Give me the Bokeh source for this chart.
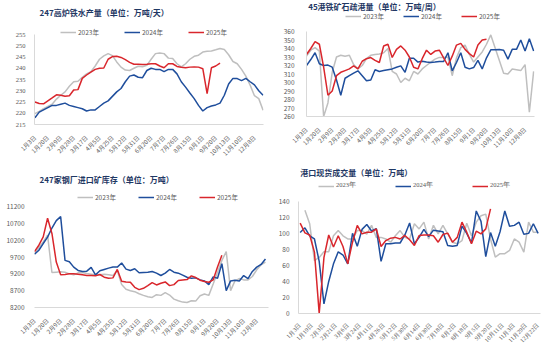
import math
from bokeh.plotting import figure
from bokeh.models import Range1d, FixedTicker, Legend, LegendItem, Label
from bokeh.layouts import column, row
from bokeh.embed import file_html
from bokeh.resources import INLINE

NAN = float("nan")

# ---------------- data ----------------
week_labels = ["1月3日", "1月20日", "2月9日", "2月28日", "3月17日", "4月5日", "4月25日",
               "5月12日", "5月31日", "6月20日", "7月7日", "7月26日", "8月15日", "9月1日",
               "9月20日", "10月13日", "11月10日", "12月8日"]

hot_metal_2023 = [219.8, 220.8, 222.0, 223.0, 224.0, 226.3, 228.0, 229.5, 232.0, 234.0,
                  234.2, 236.0, 237.5, 238.5, 241.0, 244.0, 245.5, 246.5, 245.6, 242.8,
                  240.5, 239.2, 239.0, 240.0, 240.9, 240.7, 241.3, 244.0, 246.5, 246.8,
                  246.5, 244.5, 244.3, 242.0, 240.6, 242.0, 244.0, 245.3, 245.8, 247.2,
                  247.6, 247.7, 248.2, 248.8, 248.3, 246.0, 243.0, 242.0, 239.5, 236.5,
                  232.5, 227.8, 226.5, 221.3]
hot_metal_2024 = [218.0, 220.5, 221.5, 222.5, 223.5, 223.5, 224.0, 224.5, 223.5, 223.0,
                  222.5, 222.0, 221.0, 221.5, 221.5, 223.0, 224.5, 225.5, 227.5, 229.5,
                  231.0, 234.0, 236.5, 237.0, 236.0, 235.8, 239.0, 240.0, 239.5, 239.5,
                  238.5, 239.5, 239.5, 237.5, 234.0, 231.6, 229.0, 226.5, 223.5, 221.0,
                  222.5, 223.2, 223.7, 224.5, 228.0, 233.0, 235.5, 235.4, 234.5, 235.5,
                  234.0, 232.6, 230.0, 228.0]
hot_metal_2025 = [225.0, 224.3, 224.2, 225.5, 226.8, 228.2, 228.0, 227.6, 227.8, 230.3,
                  230.5, 235.5, 237.0, 238.3, 239.5, 240.0, 240.1, 244.0, 245.2, 245.3,
                  244.8, 243.8, 242.6, 241.8, 241.8, 241.7, 241.8, 242.0, 242.0, 241.0,
                  240.2, 242.0, 242.0, 240.8, 240.4, 240.2, 240.5, 240.6, 240.5, 239.8,
                  228.7, 240.2, 241.0, 242.3]

port_out_2023 = [331, 338, 341, 337, 260, 276, 312, 330, 332, 331,
                 332, 321, 316, 320, 328, 332, 333, 333.5, 335, 340,
                 313, 310, 300, 305, 302, 313, 310, 316, 320, 324,
                 327.5, 329.5, 329.5, 330, 308, 329, 341, 344, 333, 324,
                 330, 336, 345, 356, 341, 326, 311, 310, 316, 315,
                 314, 321, 265, 313]
port_out_2024 = [320, 327, 335, 322, 320, 320.5, 318, 303, 285, 305,
                 308, 311, 313.7, 308, 302, 303, 315, 313, 314, 315,
                 316, 318, 319.6, 312, 328.6, 328.6, 324, 325, 324, 323.5,
                 324, 324.7, 324.7, 335, 313.7, 323.5, 335, 318, 316, 317.6,
                 326, 316, 329, 338.4, 338.4, 338.8, 338, 327.5, 339, 339,
                 350, 337, 351.5, 337]
port_out_2025 = [333, 340, 348, 345, 318, 285, 290, 308, 312, 314,
                 316, 319.6, 316, 325, 328, 329.4, 326, 323.5, 343, 345,
                 329.4, 339, 343, 338, 330, 318, 316, 328, 338, 333,
                 337, 338, 329, 320, 331, 344, 346, 339, 334, 330,
                 344, 350, 351]

stock_2023 = [9800, 9980, 10150, 10350, 9240, 9250, 9260, 9250, 9200, 9170,
              9230, 9240, 9210, 9190, 9170, 9170, 9190, 9170, 9150, 9300,
              8880, 8740, 8700, 8670, 8610, 8560, 8520, 8500, 8580, 8560,
              8640, 8570, 8450, 8400, 8360, 8350, 8400, 8390, 8550, 8600,
              8560, 8900, 9250, 9600, 9860, 8700, 8990, 9060, 9020, 9020,
              9120, 9320, 9470, 9550]
stock_2024 = [9780, 9900, 10100, 10290, 10560, 10780, 10900, 9600, 9560, 9400,
              9300, 9270, 9280, 9390, 9170, 9290, 9330, 9370, 9400, 9400,
              9520, 9340, 9300, 9350, 9230, 9240, 9250, 9270, 9220, 9150,
              9220, 9330, 9250, 9220, 9160, 9100, 9070, 9080, 9020, 8990,
              8880, 9110, 9070, 9500, 8700, 8990, 9010, 8990, 9150, 9060,
              9270, 9400, 9480, 9640]
stock_2025 = [9860, 10050, 10300, 10850, 10400, 9550, 9170, 9180, 9200, 9200,
              9190, 9170, 9150, 9150, 9140, 9180, 9100, 9070, 9080, 9330,
              8980, 8960, 8950, 8800, 8730, 8770, 8850, 8940, 8870, 8920,
              8960, 8850, 8880, 9000, 9020, 9030, 9140, 9090, 9010, 8970,
              8950, 9020, 9400, 9750]

deal_labels = ["1月3日", "1月19日", "2月3日", "2月21日", "3月6日", "3月24日", "4月11日",
               "4月26日", "5月12日", "5月30日", "6月14日", "6月30日", "7月18日", "8月2日",
               "8月18日", "9月5日", "9月20日", "10月11日", "11月3日", "11月29日", "12月22日"]
deal_2023 = [NAN, 129, 112, 66, 70, 77, 77, 97, 103.5, 97,
             93, 93, 103.5, 103.5, 99, 110, 95, 95, 93, 89,
             97, 103.5, 95, 93, 112, 105.6, 114, 93, 110, 99.4,
             110, 99.4, 89, 87, 91, 112.7, 97, 114, 122, 124,
             93, 70.4, 74.6, 74.6, 78.7, 93, 89, 76.6, 114, 101.5, 101.5]
deal_2024 = [101, 107, 97, 93, 65, 12, 40, 62, 77, 73,
             62, 100, 84, 105, 111, 103, 106, 65, 87, 87,
             88, 88, 98, 113, 87, 95, 105, 96, 104, 103,
             102, 85, 84, 85, 109, 100, 88, 128, 115, 71,
             101, 84, 102, 128, 109, 110, 114, 99, 100, 112, 100]
deal_2025 = [112.7, 100.7, 98, 76.6, 0, 70, 98, 83, 97, 83.7,
             62, 89, 110, 99.4, 101.5, 101.5, 105.6, 83.7, 91, 94,
             95, 93, 97.4, 92, 85, 97.4, 98, 98, 97, 89,
             98.6, 100.3, 89, 95, 114, 101.5, 87, 102.7, 99.4, 105.6, 130.5]

year_names = ["2023年", "2024年", "2025年"]

# ---------------- styling ----------------
GRAY = "#BFBFBF"
BLUE = "#1F4E9C"
RED = "#D9262C"
TITLE_C = "#1F3864"
TICK_C = "#595959"
AXIS_C = "#D9D9D9"
CJK = "Noto Sans CJK SC"
COLORS = [GRAY, BLUE, RED]


def header(W, h, title, tx, ty):
    f = figure(width=W, height=h, output_backend="svg", toolbar_location=None,
               x_range=Range1d(0, W), y_range=Range1d(h, 0),
               x_axis_type=None, y_axis_type=None, title_location=None,
               min_border=0)
    f.outline_line_color = None
    f.xgrid.visible = False
    f.ygrid.visible = False
    f.add_layout(Label(x=tx, y=ty, text=title, text_font=CJK, text_font_style="bold",
                       text_font_size="8px", text_color=TITLE_C,
                       text_baseline="middle", text_align="left"))
    return f


def panel(W, H, bl, br, A, B, labels, tick_step, pscale, series, yr, x_lo, x_hi,
          leg_x0, leg_step, leg_y, ystand, xstand, left_line, yfont, xfont, legfont):
    y_lo, y_hi, y_step = yr
    s = (B - A) / (y_hi - y_lo)          # px per unit
    y_top = y_hi + A / s                 # frame extends up to the canvas top
    p = figure(width=W, height=H, output_backend="svg", toolbar_location=None,
               x_range=Range1d(x_lo, x_hi), y_range=Range1d(y_lo, y_top),
               title_location=None,
               min_border_left=bl, min_border_right=br,
               min_border_top=0, min_border_bottom=H - B)
    p.outline_line_color = None
    p.xgrid.visible = False
    p.ygrid.visible = False
    p.background_fill_color = "white"
    p.border_fill_color = "white"

    ticks = [k * tick_step for k in range(len(labels))]
    p.xaxis.ticker = FixedTicker(ticks=ticks)
    p.xaxis.major_label_overrides = {t: l for t, l in zip(ticks, labels)}
    p.xaxis.major_label_orientation = math.pi / 4
    p.xaxis.major_label_text_font_size = "6px"
    p.xaxis.major_label_text_font = xfont
    p.xaxis.major_label_text_color = TICK_C
    p.xaxis.major_label_standoff = xstand
    p.xaxis.axis_line_color = AXIS_C
    p.xaxis.major_tick_line_color = None
    p.xaxis.minor_tick_line_color = None

    p.yaxis.ticker = FixedTicker(ticks=list(range(y_lo, y_hi + 1, y_step)))
    p.yaxis.bounds = (y_lo, y_hi)
    p.yaxis.major_label_text_font_size = "6.5px"
    p.yaxis.major_label_text_font = yfont
    p.yaxis.major_label_text_color = TICK_C
    p.yaxis.major_label_standoff = ystand
    p.yaxis.axis_line_color = AXIS_C if left_line else None
    p.yaxis.major_tick_line_color = None
    p.yaxis.minor_tick_line_color = None

    rends = []
    for vals, c in zip(series, COLORS):
        xs = [i * pscale for i in range(len(vals))]
        rends.append(p.line(xs, vals, line_color=c, line_width=1.5))

    leg = Legend(items=[LegendItem(label=n, renderers=[r]) for n, r in zip(year_names, rends)],
                 location=(leg_x0 - bl, B - leg_y - 4),
                 orientation="horizontal", padding=0, margin=0, spacing=0,
                 glyph_width=16, glyph_height=8, label_height=8,
                 label_width=leg_step - 18,
                 label_standoff=2, label_text_font_size="6.5px",
                 label_text_font=legfont, label_text_color=TICK_C,
                 border_line_color=None, background_fill_alpha=0)
    p.add_layout(leg)
    return p


# top-left: header 22 px, plot 144 px
h1 = header(275, 22, "247高炉铁水产量（单位：万吨/天）", 6, 12)
p1 = panel(275, 144, 34, 12, 12, 102, week_labels, 3, 1,
           [hot_metal_2023, hot_metal_2024, hot_metal_2025],
           (215, 255, 5), -0.1, 53.1, 60, 64, 11, 3, 6,
           True, "Liberation Serif", CJK, CJK)

# top-right: header 12 px, plot 154 px
h2 = header(275, 12, "45港铁矿石疏港量（单位：万吨/周）", 2, 6)
p2 = panel(275, 154, 31, 16, 19, 104, week_labels, 3, 1,
           [port_out_2023, port_out_2024, port_out_2025],
           (260, 360, 10), 0, 53.2, 70, 58, 5, 6, 6,
           True, CJK, CJK, CJK)

# bottom-left: header 20 px, plot 162 px
h3 = header(275, 20, "247家钢厂进口矿库存（单位：万吨）", 6, 13)
p3 = panel(275, 162, 34, 7, 20, 121, week_labels, 3, 1,
           [stock_2023, stock_2024, stock_2025],
           (8200, 11200, 500), 0, 53.7, 77, 61, 12, 4, 6,
           False, CJK, CJK, CJK)

# bottom-right: header 12 px, plot 170 px
h4 = header(275, 12, "港口现货成交量（单位：万吨）", 2, 6)
p4 = panel(275, 170, 15, 10, 23, 136, deal_labels, 5, 2,
           [deal_2023, deal_2024, deal_2025],
           (0, 140, 20), -0.7, 101, 35, 77, 9, 3, 5,
           True, CJK, "Liberation Serif", "Liberation Serif")

layout = column(row(column(h1, p1), column(h2, p2)),
                row(column(h3, p3), column(h4, p4)))
open("out.html", "w").write(file_html(layout, INLINE))
